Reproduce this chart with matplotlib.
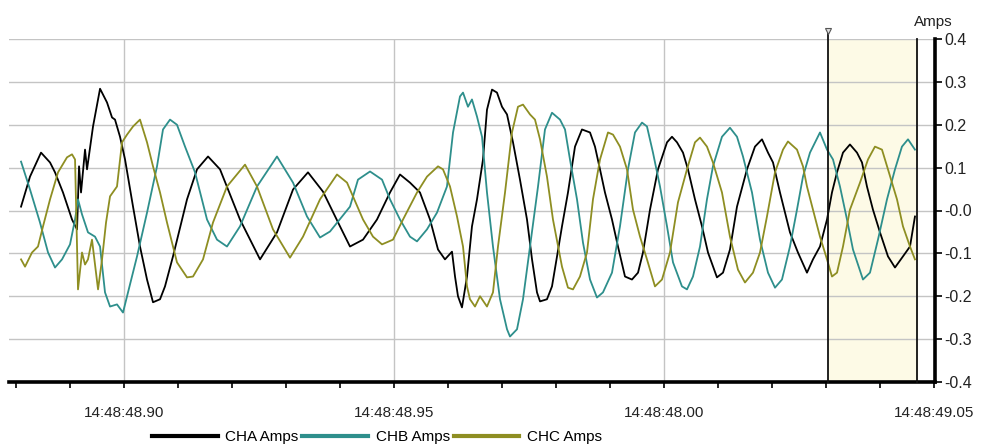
import numpy as np
import matplotlib
matplotlib.use("Agg")
import matplotlib.pyplot as plt
from matplotlib.lines import Line2D

plt.rcParams['font.family'] = ['Liberation Sans', 'DejaVu Sans']

# time in ms after 14:48:48.900, current in amps
cha_t = [-19.07, -17.41, -15.37, -13.70, -12.78, -11.30, -9.63, -8.70, -8.33, -7.96, -7.22, -6.85,
         -5.74, -4.44, -3.15, -2.22, -1.67, -0.74, 0.19, 1.67, 2.96, 4.26, 5.37, 6.67, 7.59, 9.07,
         11.67, 13.52, 15.56, 17.78, 21.48, 25.19, 28.33, 31.30, 34.07, 36.85, 40.00, 41.85, 44.26,
         46.85, 49.26, 51.11, 52.96, 54.81, 56.67, 58.15, 59.44, 60.74, 61.30, 61.85, 62.59, 63.52,
         64.44, 65.37, 66.48, 67.22, 68.15, 69.07, 70.00, 70.93, 72.04, 73.33, 74.63, 75.56, 76.48,
         77.04, 78.33, 79.26, 80.19, 81.11, 82.22, 83.52, 84.81, 86.30, 87.22, 88.15, 89.07, 90.37,
         91.48, 92.78, 94.07, 95.19, 96.11, 97.41, 98.89, 100.56, 101.48, 102.41, 103.52, 104.44,
         105.74, 107.04, 108.15, 109.81, 110.93, 112.22, 113.52, 115.37, 116.85, 118.15, 119.26,
         120.19, 121.48, 123.33, 124.81, 126.48, 127.59, 128.89, 130.19, 131.11, 132.04, 133.15,
         134.44, 135.74, 136.67, 137.59, 138.70, 140.00, 141.48, 142.78, 144.26, 145.56, 146.48]
cha_amps = [0.009, 0.079, 0.135, 0.112, 0.089, 0.042, -0.021, -0.044, 0.103, 0.042, 0.142, 0.096,
            0.196, 0.284, 0.252, 0.217, 0.212, 0.172, 0.119, 0.009, -0.084, -0.161, -0.214, -0.207,
            -0.177, -0.107, 0.026, 0.096, 0.126, 0.096, -0.021, -0.114, -0.051, 0.049, 0.089, 0.044,
            -0.037, -0.084, -0.068, -0.021, 0.042, 0.084, 0.065, 0.042, -0.021, -0.091, -0.114,
            -0.096, -0.154, -0.200, -0.226, -0.154, -0.037, 0.026, 0.119, 0.235, 0.282, 0.275, 0.242,
            0.224, 0.159, 0.072, -0.021, -0.114, -0.191, -0.212, -0.207, -0.177, -0.107, -0.037,
            0.042, 0.149, 0.189, 0.182, 0.149, 0.096, 0.042, -0.021, -0.084, -0.154, -0.161, -0.145,
            -0.098, 0.002, 0.096, 0.159, 0.172, 0.159, 0.135, 0.096, 0.026, -0.037, -0.098, -0.156,
            -0.145, -0.091, 0.009, 0.096, 0.149, 0.166, 0.135, 0.112, 0.042, -0.051, -0.098, -0.145,
            -0.114, -0.084, -0.021, 0.042, 0.089, 0.135, 0.154, 0.135, 0.112, 0.056, 0.002, -0.051,
            -0.107, -0.133, -0.107, -0.084, -0.014]

chb_t = [-19.07, -17.41, -15.56, -14.07, -12.78, -11.48, -10.00, -9.07, -8.52, -7.78, -6.67, -5.37,
         -4.44, -3.52, -2.59, -1.30, -0.19, 0.74, 2.41, 4.26, 6.11, 7.22, 8.52, 9.81, 11.30, 13.15,
         15.37, 17.22, 19.07, 21.48, 24.63, 28.33, 31.30, 33.89, 36.30, 38.15, 41.85, 43.33, 45.56,
         47.78, 49.26, 51.11, 52.96, 54.26, 56.11, 57.96, 59.81, 60.93, 62.22, 62.78, 63.70, 64.44,
         65.37, 66.30, 67.22, 68.33, 69.63, 70.93, 71.48, 72.78, 73.89, 75.19, 76.67, 77.96, 79.26,
         80.74, 81.67, 82.59, 83.89, 85.00, 86.30, 87.59, 88.70, 90.37, 91.85, 93.33, 94.63, 95.93,
         96.85, 97.96, 99.26, 100.56, 101.67, 103.33, 104.26, 105.37, 106.67, 107.96, 109.07,
         110.74, 112.22, 113.52, 114.63, 116.30, 117.78, 119.26, 120.56, 121.85, 123.33, 124.63,
         125.74, 127.04, 128.89, 130.19, 131.30, 132.59, 133.89, 135.00, 136.85, 138.15, 139.63,
         141.30, 142.78, 144.07, 145.19, 146.48]
chb_amps = [0.114, 0.049, -0.028, -0.098, -0.133, -0.114, -0.079, -0.021, 0.026, -0.009, -0.051,
            -0.061, -0.084, -0.191, -0.224, -0.219, -0.238, -0.191, -0.107, -0.005, 0.103, 0.189,
            0.212, 0.200, 0.149, 0.089, -0.021, -0.068, -0.084, -0.037, 0.056, 0.126, 0.065, -0.014,
            -0.063, -0.049, 0.009, 0.072, 0.091, 0.072, 0.026, -0.021, -0.061, -0.072, -0.044,
            -0.005, 0.056, 0.182, 0.266, 0.275, 0.242, 0.259, 0.219, 0.172, 0.042, -0.084, -0.207,
            -0.277, -0.294, -0.277, -0.207, -0.084, 0.056, 0.189, 0.228, 0.212, 0.189, 0.119, 0.026,
            -0.075, -0.161, -0.203, -0.191, -0.145, -0.037, 0.096, 0.182, 0.205, 0.196, 0.135,
            0.056, -0.037, -0.121, -0.177, -0.184, -0.154, -0.084, 0.026, 0.103, 0.172, 0.193, 0.172,
            0.126, 0.042, -0.068, -0.145, -0.180, -0.161, -0.084, 0.002, 0.079, 0.135, 0.182, 0.142,
            0.119, 0.056, -0.021, -0.091, -0.161, -0.145, -0.068, 0.026, 0.096, 0.149, 0.166, 0.142]

chc_t = [-19.07, -18.33, -17.04, -15.93, -15.00, -13.70, -12.22, -10.56, -9.63, -9.07, -8.52, -7.78,
         -7.22, -6.67, -5.93, -4.81, -4.07, -3.33, -2.59, -1.30, -0.37, 0.56, 1.67, 2.96, 4.26, 5.37,
         6.67, 7.96, 9.81, 11.67, 12.78, 14.63, 16.48, 19.07, 22.41, 24.63, 27.59, 30.74, 33.15,
         36.30, 39.44, 41.30, 44.26, 46.11, 47.78, 49.81, 51.67, 54.26, 56.11, 58.15, 59.07, 60.37,
         61.67, 62.78, 63.52, 64.07, 65.00, 65.93, 67.22, 68.33, 69.26, 70.56, 71.85, 72.96, 73.89,
         75.19, 76.11, 77.04, 78.33, 79.44, 81.11, 82.22, 83.15, 84.44, 85.74, 86.85, 88.15, 89.63,
         90.56, 91.85, 93.15, 94.26, 95.56, 96.85, 98.33, 99.63, 101.11, 102.59, 104.26, 105.74,
         106.67, 107.96, 109.07, 110.74, 112.22, 113.70, 115.00, 116.48, 117.78, 119.07, 120.56,
         122.04, 122.96, 124.63, 125.74, 126.48, 127.59, 128.89, 130.19, 131.11, 132.04, 133.15,
         134.44, 136.30, 137.78, 139.07, 140.37, 141.48, 143.15, 144.26, 145.56, 146.48]
chc_amps = [-0.114, -0.131, -0.098, -0.084, -0.037, 0.026, 0.089, 0.124, 0.131, 0.119, -0.184,
            -0.098, -0.126, -0.114, -0.068, -0.184, -0.114, -0.028, 0.033, 0.056, 0.159, 0.177,
            0.196, 0.212, 0.159, 0.103, 0.042, -0.028, -0.121, -0.156, -0.154, -0.114, -0.028, 0.056,
            0.107, 0.056, -0.044, -0.110, -0.061, 0.026, 0.084, 0.065, -0.021, -0.061, -0.079,
            -0.068, -0.021, 0.042, 0.079, 0.103, 0.096, 0.056, -0.014, -0.084, -0.177, -0.207,
            -0.224, -0.200, -0.224, -0.191, -0.084, 0.042, 0.182, 0.242, 0.247, 0.224, 0.212, 0.166,
            0.079, -0.021, -0.131, -0.180, -0.184, -0.154, -0.098, 0.026, 0.119, 0.182, 0.177, 0.149,
            0.096, 0.002, -0.061, -0.114, -0.177, -0.161, -0.098, 0.019, 0.096, 0.159, 0.170, 0.149,
            0.112, 0.042, -0.061, -0.138, -0.168, -0.145, -0.098, -0.014, 0.089, 0.142, 0.161, 0.142,
            0.103, 0.056, 0.002, -0.061, -0.114, -0.154, -0.145, -0.084, 0.002, 0.065, 0.119, 0.149,
            0.142, 0.096, 0.026, -0.037, -0.084, -0.114]

series_names = ["CHA Amps", "CHB Amps", "CHC Amps"]
series_colors = ["#000000", "#2e8f8c", "#8e8e22"]

tick_ms = [0, 50, 100, 150]
tick_labels = ["14:48:48.90", "14:48:48.95", "14:48:48.00", "14:48:49.05"]
amp_ticks = [0.4, 0.3, 0.2, 0.1, 0.0, -0.1, -0.2, -0.3, -0.4]
amp_labels = ["0.4", "0.3", "0.2", "0.1", "-0.0", "-0.1", "-0.2", "-0.3", "-0.4"]

# cursor pair (ms)
cursor_a = 130.37
cursor_b = 146.85

fig = plt.figure(figsize=(9.83, 4.46), dpi=100)
ax = fig.add_axes([9 / 983, 64 / 446, 926 / 983, 343 / 446])

ax.set_xlim(-21.30, 150.19)
ax.set_ylim(-0.4, 0.4)

# shaded cursor window
ax.axvspan(cursor_a, cursor_b, color="#fdfae6", zorder=0)

# grid
for v in amp_ticks:
    ax.axhline(v, color="#c4c4c4", lw=1.0, zorder=1)
for t in tick_ms[:-1]:
    ax.axvline(t, color="#c4c4c4", lw=1.0, zorder=1)

for t, a, c in zip([cha_t, chb_t, chc_t], [cha_amps, chb_amps, chc_amps], series_colors):
    ax.plot(t, a, color=c, lw=1.3, zorder=3)

# cursor lines
ax.plot([cursor_a, cursor_a], [-0.4, 0.413], color="#111111", lw=1.3, clip_on=False, zorder=4)
ax.plot([cursor_b, cursor_b], [-0.4, 0.4], color="#111111", lw=1.3, clip_on=False, zorder=4)
ax.plot([cursor_a], [0.418], marker="v", ms=4, mfc="#dddddd", mec="#555555", mew=0.8,
        clip_on=False, zorder=5)

# axes styling
for s in ["left", "top"]:
    ax.spines[s].set_visible(False)
ax.spines["right"].set_linewidth(2.6)
ax.spines["bottom"].set_linewidth(2.6)
ax.yaxis.tick_right()
ax.set_yticks(amp_ticks)
ax.set_yticklabels(amp_labels)
ax.set_xticks(tick_ms)
ax.set_xticklabels(tick_labels)
ax.set_xticks(np.arange(-20, 151, 10), minor=True)
ax.tick_params(axis="y", direction="out", length=5, width=1.2, pad=1.5, labelsize=11.5,
               labelcolor="#222222")
ax.tick_params(axis="x", which="both", direction="out", length=4, width=1.2, pad=13,
               labelsize=11, labelcolor="#222222")

fig.text(933 / 983, 1 - 22 / 446, "Amps", ha="center", va="center", fontsize=11,
         color="#222222")

handles = [Line2D([], [], color=c, lw=3) for c in series_colors]
fig.legend(handles, series_names, loc="center", bbox_to_anchor=(377 / 983, 1 - 437 / 446),
           ncol=3, frameon=False, fontsize=11, handlelength=4.3, handletextpad=0.5,
           columnspacing=0.25, borderaxespad=0, borderpad=0)

fig.savefig("out.png", dpi=100)
